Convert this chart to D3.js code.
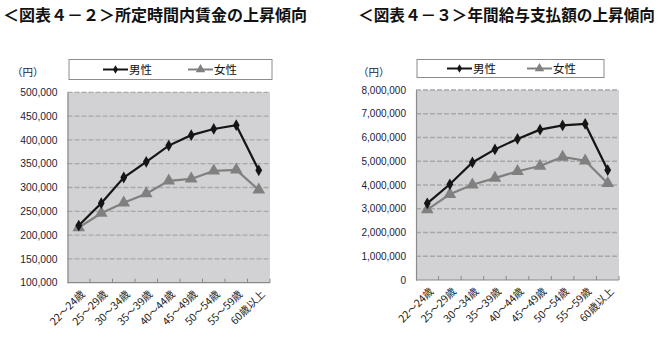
<!DOCTYPE html>
<html>
<head>
<meta charset="utf-8">
<script src="https://cdn.jsdelivr.net/npm/d3@7"></script>
<style>
  html, body { margin: 0; padding: 0; background: #fff; }
  svg { display: block; }
</style>
</head>
<body>
<svg id="chart" width="662" height="339"></svg>
<script>
// Age groups shared by both panels
const categories = ["22～24歳", "25～29歳", "30～34歳", "35～39歳", "40～44歳",
                    "45～49歳", "50～54歳", "55～59歳", "60歳以上"];

// Scheduled monthly earnings (yen)
const wageMale   = [220000, 267000, 321000, 354000, 388000, 410000, 423000, 431000, 336000];
const wageFemale = [216000, 246000, 268000, 287000, 314000, 318000, 335000, 337000, 295000];
const wageTicks  = [100000, 150000, 200000, 250000, 300000, 350000, 400000, 450000, 500000];

// Annual salary payments (yen)
const payMale    = [3230000, 4030000, 4950000, 5500000, 5940000, 6330000, 6510000, 6570000, 4630000];
const payFemale  = [2960000, 3610000, 4010000, 4290000, 4580000, 4800000, 5180000, 5020000, 4070000];
const payTicks   = [0, 1000000, 2000000, 3000000, 4000000, 5000000, 6000000, 7000000, 8000000];

const seriesNames = ["男性", "女性"];
const titles = ["＜図表４－２＞所定時間内賃金の上昇傾向", "＜図表４－３＞年間給与支払額の上昇傾向"];

const svg = d3.select("#chart");
const jp = "'Noto Sans CJK JP', 'Noto Sans', sans-serif";
const num = "'Liberation Sans', Arial, sans-serif";
const maleColor = "#151515", femaleColor = "#808080";

function drawPanel(cfg) {
  const g = svg.append("g");

  // title
  g.append("text")
    .attr("x", cfg.titleX).attr("y", 21)
    .attr("font-family", jp).attr("font-weight", "bold")
    .attr("font-size", 16).attr("fill", "#111")
    .attr("textLength", cfg.titleW).attr("lengthAdjust", "spacingAndGlyphs")
    .text(cfg.title);

  const x = d3.scaleBand().domain(categories).range([cfg.left, cfg.right]);
  const y = d3.scaleLinear().domain(cfg.domain).range([cfg.bottom, cfg.top]);

  // plot background
  g.append("rect")
    .attr("x", cfg.left).attr("y", cfg.top)
    .attr("width", cfg.right - cfg.left).attr("height", cfg.bottom - cfg.top)
    .attr("fill", "#d2d2d4");

  // horizontal dashed gridlines
  g.append("g").selectAll("line")
    .data(cfg.ticks.slice(1))
    .join("line")
    .attr("x1", cfg.left).attr("x2", cfg.right)
    .attr("y1", d => y(d)).attr("y2", d => y(d))
    .attr("stroke", "#a8a8aa").attr("stroke-width", 1.3)
    .attr("stroke-dasharray", "5,2");

  // y axis
  const yAxis = d3.axisLeft(y).tickValues(cfg.ticks).tickSize(0).tickPadding(10)
    .tickFormat(d3.format(","));
  const ya = g.append("g").attr("transform", `translate(${cfg.left},0)`).call(yAxis);
  ya.select(".domain").attr("stroke", "#8a8a8a").attr("stroke-width", 1.2);
  ya.selectAll("text").attr("font-family", num).attr("font-size", cfg.yFont)
    .attr("fill", "#1c2138");

  // x axis with inward ticks at band edges
  const xa = g.append("g").attr("transform", `translate(0,${cfg.bottom})`);
  xa.append("line").attr("x1", cfg.left).attr("x2", cfg.right)
    .attr("stroke", "#8a8a8a").attr("stroke-width", 1.2);
  xa.selectAll("line.tk")
    .data(categories)
    .join("line").attr("class", "tk")
    .attr("x1", d => x(d) + x.bandwidth())
    .attr("x2", d => x(d) + x.bandwidth())
    .attr("y1", 0).attr("y2", -4)
    .attr("stroke", "#8a8a8a").attr("stroke-width", 1);
  xa.selectAll("text")
    .data(categories)
    .join("text")
    .attr("transform", d => `translate(${x(d) + x.bandwidth() / 2 + 7},${12}) rotate(-45)`)
    .attr("text-anchor", "end")
    .attr("font-family", jp).attr("font-size", 10.5).attr("fill", "#222")
    .text(d => d);

  // unit label
  g.append("text")
    .attr("x", cfg.unitX).attr("y", 76)
    .attr("font-family", jp).attr("font-size", 10.5).attr("fill", "#1c2138")
    .text("（円）");

  const cx = d => x(d) + x.bandwidth() / 2;
  const line = d3.line().x(d => cx(d.c)).y(d => y(d.v));
  const male = categories.map((c, i) => ({ c, v: cfg.male[i] }));
  const female = categories.map((c, i) => ({ c, v: cfg.female[i] }));

  g.append("path").datum(female).attr("d", line)
    .attr("fill", "none").attr("stroke", femaleColor).attr("stroke-width", 2.2);
  g.append("g").selectAll("path").data(female).join("path")
    .attr("d", d3.symbol(d3.symbolTriangle, 70)())
    .attr("transform", d => `translate(${cx(d.c)},${y(d.v)})`)
    .attr("fill", femaleColor);

  g.append("path").datum(male).attr("d", line)
    .attr("fill", "none").attr("stroke", maleColor).attr("stroke-width", 2.2);
  g.append("g").selectAll("path").data(male).join("path")
    .attr("d", d3.symbol(d3.symbolDiamond, 40)())
    .attr("transform", d => `translate(${cx(d.c)},${y(d.v)})`)
    .attr("fill", maleColor);

  // legend
  const lg = g.append("g");
  lg.append("rect")
    .attr("x", cfg.legX).attr("y", 59.5)
    .attr("width", cfg.legW).attr("height", cfg.legH)
    .attr("fill", "#fff").attr("stroke", "#8c8c8c").attr("stroke-width", 1);
  const ly = 59.5 + cfg.legH / 2;
  const items = [
    { name: seriesNames[0], color: maleColor, sym: d3.symbol(d3.symbolDiamond, 22)(), x: cfg.legItems[0] },
    { name: seriesNames[1], color: femaleColor, sym: d3.symbol(d3.symbolTriangle, 40)(), x: cfg.legItems[1] }
  ];
  items.forEach(it => {
    lg.append("line").attr("x1", it.x).attr("x2", it.x + 25)
      .attr("y1", ly).attr("y2", ly)
      .attr("stroke", it.color).attr("stroke-width", 2);
    lg.append("path").attr("d", it.sym)
      .attr("transform", `translate(${it.x + 12.5},${ly})`).attr("fill", it.color);
    lg.append("text").attr("x", it.x + 26).attr("y", ly + 4)
      .attr("font-family", jp).attr("font-size", 11.5).attr("fill", "#111")
      .text(it.name);
  });
}

drawPanel({
  title: titles[0], titleX: 3, titleW: 304,
  left: 67.5, right: 270, top: 92.3, bottom: 282.7,
  domain: [100000, 500000], ticks: wageTicks, yFont: 10.3,
  male: wageMale, female: wageFemale, unitX: 12,
  legX: 69, legW: 203, legH: 20, legItems: [103, 188]
});

drawPanel({
  title: titles[1], titleX: 358, titleW: 297,
  left: 416, right: 619, top: 90, bottom: 280,
  domain: [0, 8000000], ticks: payTicks, yFont: 10,
  male: payMale, female: payFemale, unitX: 358,
  legX: 417, legW: 187, legH: 18, legItems: [447, 527]
});
</script>
</body>
</html>
